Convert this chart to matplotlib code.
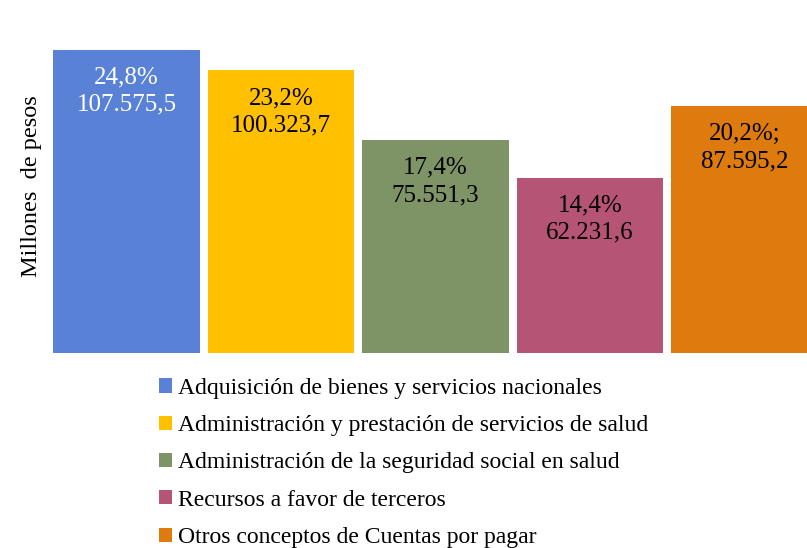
import matplotlib.pyplot as plt
import numpy as np

plt.rcParams['font.family'] = ['Liberation Serif', 'DejaVu Serif']

# data
categorias = ['Adquisición de bienes y servicios nacionales',
              'Administración y prestación de servicios de salud',
              'Administración de la seguridad social en salud',
              'Recursos a favor de terceros',
              'Otros conceptos de Cuentas por pagar']
valores = [107575.5, 100323.7, 75551.3, 62231.6, 87595.2]
etiquetas = ['24,8%\n107.575,5', '23,2%\n100.323,7', '17,4%\n75.551,3',
             '14,4%\n62.231,6', '20,2%;\n87.595,2']
colores = ['#5981D6', '#FFC000', '#7E9366', '#B55475', '#DD7B0E']
color_texto = ['white', 'black', 'black', 'black', 'black']

W, H = 807, 548
fig = plt.figure(figsize=(W / 100, H / 100), dpi=100)
# axes runs past the right edge, last bar is cut like in the original
ax = fig.add_axes([49.25 / W, (H - 353) / H, 772.5 / W, 338 / H])

x = np.arange(len(valores))
barras = ax.bar(x, valores, width=0.951, color=colores)

for i, b in enumerate(barras):
    ax.annotate(etiquetas[i], (b.get_x() + b.get_width() / 2, b.get_height()),
                xytext=(0, -12), textcoords='offset points',
                ha='center', va='top', fontsize=18, color=color_texto[i],
                linespacing=1.3)

ax.set_xlim(-0.5, 4.5)
ax.set_ylim(0, 120000)
ax.set_xticks([])
ax.set_yticks([])
for s in ax.spines.values():
    s.set_visible(False)

fig.text(32 / W, 1 - 186 / H, 'Millones  de pesos', rotation=90,
         ha='center', va='center', fontsize=17.5)

fig.legend(barras, categorias, loc='upper left',
           bbox_to_anchor=(147 / W, 1 - 366 / H), frameon=False,
           fontsize=17, handlelength=0.55, handleheight=0.55,
           handletextpad=0.25, labelspacing=0.69, borderpad=0)

fig.savefig('out.png', dpi=100)
